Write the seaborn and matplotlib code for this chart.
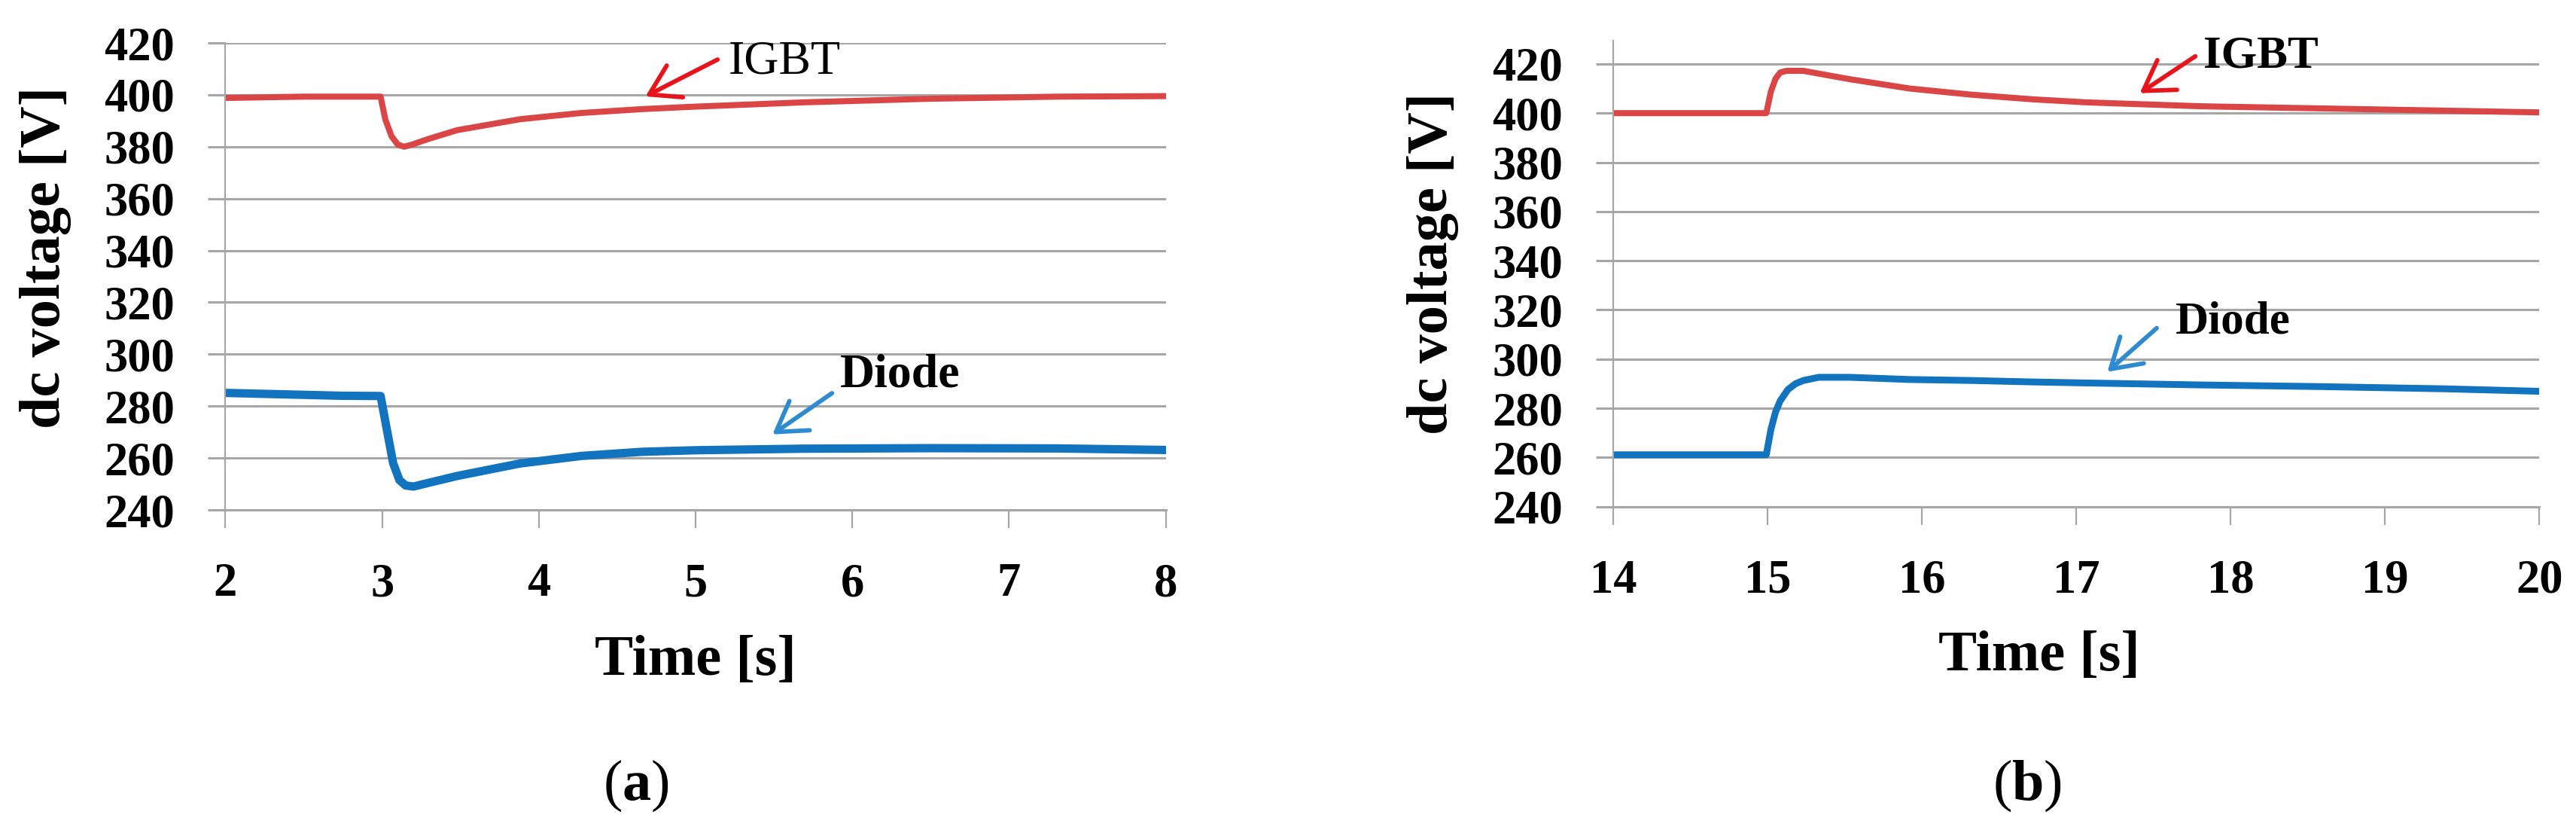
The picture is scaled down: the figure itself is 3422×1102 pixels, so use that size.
import matplotlib
matplotlib.use("Agg")
import matplotlib.pyplot as plt
import seaborn as sns

sns.set_theme(style="white")
plt.rcParams['font.family'] = ['Liberation Serif', 'DejaVu Serif']
plt.rcParams['text.color'] = 'black'
plt.rcParams['axes.labelcolor'] = 'black'
plt.rcParams['mathtext.fontset'] = 'custom'
plt.rcParams['mathtext.rm'] = 'Liberation Serif'
plt.rcParams['mathtext.bf'] = 'Liberation Serif:bold'

# (a) voltage dip at t = 3 s
time_a = [2.0, 2.5, 2.99, 3.02, 3.06, 3.10, 3.14, 3.19, 3.29, 3.48, 3.88, 4.27, 4.66, 4.98, 5.69, 6.5, 7.31, 8.0]
igbt_a = [398.8, 399.3, 399.3, 390.5, 384.0, 380.8, 380.0, 380.8, 382.9, 386.4, 390.6, 393.0, 394.5, 395.4, 397.1, 398.5, 399.3, 399.5]
time_a_d = [2.0, 2.74, 2.99, 3.03, 3.07, 3.11, 3.15, 3.20, 3.28, 3.48, 3.88, 4.27, 4.66, 5.0, 5.69, 6.5, 7.31, 8.0]
diode_a = [285.1, 284.0, 283.9, 270.9, 258.0, 251.5, 249.4, 249.0, 250.2, 253.1, 257.9, 260.8, 262.4, 263.0, 263.6, 263.8, 263.7, 263.1]

# (b) voltage swell at t = 15 s
time_b = [14.0, 14.99, 15.02, 15.05, 15.08, 15.12, 15.23, 15.53, 15.92, 16.32, 16.72, 17.06, 17.8, 18.6, 19.4, 20.0]
igbt_b = [400.0, 400.0, 408.8, 414.0, 416.5, 417.2, 417.2, 413.8, 410.0, 407.5, 405.6, 404.4, 402.8, 401.9, 401.0, 400.3]
time_b_d = [14.0, 14.99, 15.02, 15.05, 15.08, 15.13, 15.18, 15.23, 15.33, 15.53, 15.92, 16.32, 16.72, 17.06, 17.8, 18.6, 19.4, 20.0]
diode_b = [261.1, 261.1, 271.4, 278.5, 283.0, 287.6, 290.0, 291.3, 292.6, 292.6, 291.7, 291.3, 290.7, 290.3, 289.5, 288.8, 287.9, 286.9]

xticks_a = [2, 3, 4, 5, 6, 7, 8]
xticks_b = [14, 15, 16, 17, 18, 19, 20]
yticks = [240, 260, 280, 300, 320, 340, 360, 380, 400, 420]

GRID = "#A6A6A6"
IGBT_C = "#DA4646"
DIODE_C = "#1273BE"
ARROW_RED = "#E8141B"
ARROW_BLUE = "#2E8BD0"


def style_axes(ax, xticks, ytop):
    ax.set_xlim(xticks[0], xticks[-1])
    ax.set_xticks(xticks)
    ax.set_ylim(240, ytop)
    ax.set_yticks(yticks)
    ax.grid(axis='y', color=GRID, lw=2.2)
    ax.grid(axis='x', visible=False)
    ax.set_axisbelow(True)
    for s in ['top', 'right']:
        ax.spines[s].set_visible(False)
    ax.spines['left'].set_color(GRID)
    ax.spines['left'].set_linewidth(1.6)
    ax.spines['bottom'].set_color(GRID)
    ax.spines['bottom'].set_linewidth(2.2)
    ax.tick_params(axis='y', direction='out', left=True, length=16.5, width=2.2,
                   color=GRID, pad=32, labelsize=45, labelcolor='black')
    ax.tick_params(axis='x', direction='out', bottom=True, length=17.5, width=1.6,
                   color=GRID, pad=33, labelsize=45, labelcolor='black')
    for lbl in ax.get_xticklabels() + ax.get_yticklabels():
        lbl.set_fontweight('bold')


def arrow(ax, head, tail, color):
    ax.annotate("", xy=head, xytext=tail,
                arrowprops=dict(arrowstyle="->,head_length=0.55,head_width=0.34",
                                color=color, lw=4.2, mutation_scale=50,
                                shrinkA=0, shrinkB=0))


fig = plt.figure(figsize=(34.22, 11.02), dpi=100)
ax_a = fig.add_axes([0.08752, 0.38566, 0.36505, 0.56261])
ax_b = fig.add_axes([0.62636, 0.38956, 0.35944, 0.56143])

# panel (a)
sns.lineplot(x=time_a, y=igbt_a, ax=ax_a, color=IGBT_C, lw=5.8)
sns.lineplot(x=time_a_d, y=diode_a, ax=ax_a, color=DIODE_C, lw=8)
style_axes(ax_a, xticks_a, 420)
ax_a.text(5.21, 412.7, "IGBT", fontsize=46, ha='left', va='center')
arrow(ax_a, (4.68, 399.4), (5.14, 413.6), ARROW_RED)
ax_a.text(5.92, 291.8, "Diode", fontsize=46, fontweight='bold', ha='left', va='center')
arrow(ax_a, (5.49, 269.1), (5.87, 285.0), ARROW_BLUE)

# panel (b)
sns.lineplot(x=time_b, y=igbt_b, ax=ax_b, color=IGBT_C, lw=5.8)
sns.lineplot(x=time_b_d, y=diode_b, ax=ax_b, color=DIODE_C, lw=6.5)
style_axes(ax_b, xticks_b, 429.46)
ax_b.text(17.82, 423.1, "IGBT", fontsize=44, fontweight='bold', ha='left', va='center')
arrow(ax_b, (17.41, 408.1), (17.77, 423.1), ARROW_RED)
ax_b.text(17.64, 315.0, "Diode", fontsize=44, fontweight='bold', ha='left', va='center')
arrow(ax_b, (17.2, 294.8), (17.52, 312.6), ARROW_BLUE)

for ax, ylab_x, ylab_y, xlab_x, xlab_y in [(ax_a, -0.1917, 0.541, 0.5, -0.324),
                                           (ax_b, -0.1954, 0.5216, 0.46, -0.3213)]:
    ax.set_ylabel("dc voltage [V]", fontsize=55, fontweight='bold', va='center')
    ax.yaxis.set_label_coords(ylab_x, ylab_y)
    ax.set_xlabel("Time [s]", fontsize=55, fontweight='bold', va='center')
    ax.xaxis.set_label_coords(xlab_x, xlab_y)

fig.text(845 / 3422, 1 - 1043 / 1102, r"($\mathbf{a}$)", fontsize=55, ha='center', va='center')
fig.text(2693 / 3422, 1 - 1043 / 1102, r"($\mathbf{b}$)", fontsize=55, ha='center', va='center')

fig.savefig("out.png", dpi=100, facecolor='white')
